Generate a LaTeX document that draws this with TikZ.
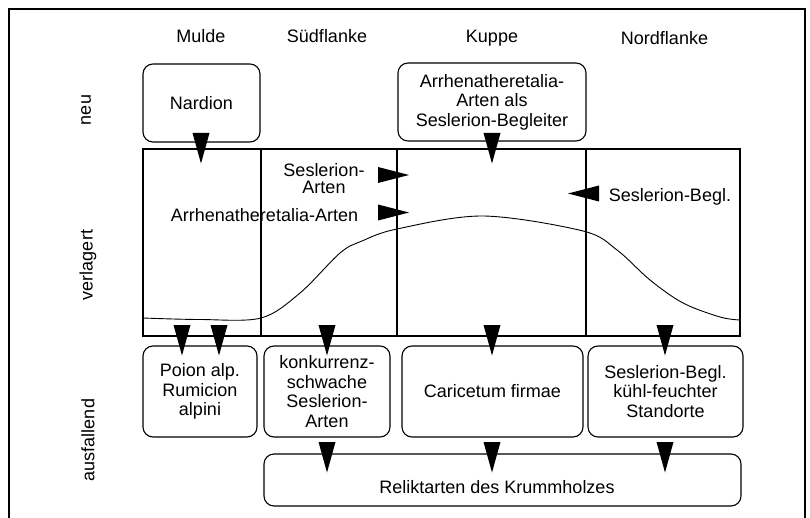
\documentclass[tikz,border=0pt]{standalone}
\usepackage{fontspec}
\setmainfont{Liberation Sans}
\usetikzlibrary{positioning, calc}

\begin{document}
\begin{tikzpicture}[x=1pt, y=-1pt,
  font=\fontsize{18}{19.5}\selectfont,
  box/.style={draw, rounded corners=10pt, line width=1.1pt, align=center, inner sep=2pt},
  head/.style={anchor=base},
  rowlabel/.style={rotate=90},
  frame/.style={line width=1.3pt}]
\useasboundingbox (0,0) rectangle (810,518);
% outer frame, open at the bottom
\draw[frame] (9,518) -- (9,9) -- (805,9) -- (805,518);

% column heads
\node[head] (mulde) at (201,42.7) {Mulde};
\node[head] (sued) at (327,42.7) {Südflanke};
\node[head] (kuppe) at (492,42.7) {Kuppe};
\node[head] (nord) at (664.5,45) {Nordflanke};

% row labels
\node[rowlabel] (neu) at (86,110) {neu};
\node[rowlabel] (verlagert) at (88,265) {verlagert};
\node[rowlabel] (ausfallend) at (88,440) {ausfallend};

% upper boxes
\node[box, minimum width=117pt, minimum height=78pt] (nardion) at (201.5,103) {Nardion};
\node[box, minimum width=188pt, minimum height=78pt] (arrhen) at (492,102)
  {Arrhenatheretalia-\\Arten als\\Seslerion-Begleiter};

% profile
\draw[frame] (143,149) rectangle (740,336);
\foreach \x in {261,397,586}
  \draw[frame] (\x,149) -- (\x,336);
\draw[line width=0.9pt] plot[smooth, tension=0.55] coordinates {
  (143,318) (200,319.5) (261,318) (300,293) (340,253) (362,241)
  (397,229) (483,216) (583,231) (617,250) (650,280) (683,303)
  (720,317) (740,320)};

\node[align=center, font=\fontsize{18}{17}\selectfont] (seslart) at (324,179) {Seslerion-\\Arten};
\node[head] (arrhenart) at (264.5,222) {Arrhenatheretalia-Arten};
\node[head] (seslbegl) at (670,201.5) {Seslerion-Begl.};

% lower boxes
\node[box, minimum width=114pt, minimum height=91pt] (poion) at (200,391.5)
  {Poion alp.\\Rumicion\\alpini};
\node[box, minimum width=126pt, minimum height=91pt] (konk) at (327,391.5)
  {konkurrenz-\\schwache\\Seslerion-\\Arten};
\node[box, minimum width=181pt, minimum height=91pt] (caric) at (492.5,391.5)
  {Caricetum firmae};
\node[box, minimum width=155pt, minimum height=91pt] (sesl) at (665.5,391.5)
  {Seslerion-Begl.\\kühl-feuchter\\Standorte};
\node[box, minimum width=477pt, minimum height=52pt] (relikt) at (502.5,480) {};
\node[head] (reliktlabel) at (497,493.3) {Reliktarten des Krummholzes};

% arrow heads
\foreach \x / \y in {201/133, 492/133, 182/325, 219/325, 327/325,
  492/325, 665/325, 327/442, 492/442, 665/442} {
\fill (\x-8.5,\y) -- (\x+8.5,\y) -- (\x,\y+30.5) -- cycle;
}
\foreach \y in {175, 212.5} {
\fill (378,\y-8) -- (378,\y+8) -- (409,\y) -- cycle;
}
\fill (599,185.5) -- (599,201.5) -- (568,193.5) -- cycle;
\end{tikzpicture}
\end{document}
